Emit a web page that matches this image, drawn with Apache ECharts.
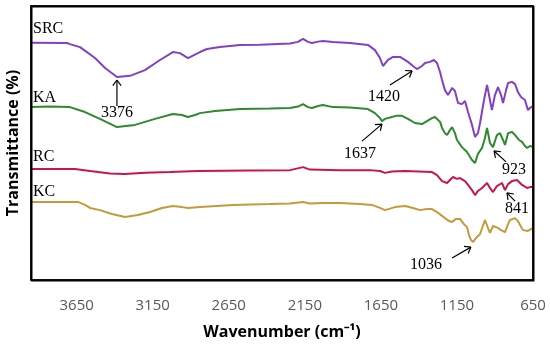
<!DOCTYPE html>
<html><head><meta charset="utf-8">
<script src="https://cdn.jsdelivr.net/npm/echarts@6/dist/echarts.min.js"></script>
<style>html,body{margin:0;padding:0;background:#fff}#c{width:550px;height:351px}</style>
</head><body><div id="c"></div>
<script>
// Wavenumber (cm-1) and relative transmittance values
const srcW = [3950,3713,3694,3628,3529,3463,3385,3299,3201,3102,3017,2971,2918,2879,2839,2793,2708,2576,2445,2247,2195,2162,2129,2103,2063,2031,1965,1853,1735,1689,1656,1636,1603,1570,1524,1472,1439,1413,1380,1360,1327,1301,1281,1261,1248,1229,1209,1182,1163,1143,1117,1097,1077,1051,1031,1012,998,972,952,933,920,900,880,860,847,827,814,788,768,749,729,703,683,670,650];
const srcV = [86.6,86.5,86.1,85.0,81.0,77.4,74.1,74.5,76.6,80.3,83.2,82.8,81.0,82.1,83.2,84.3,85.0,85.8,85.9,86.3,86.9,88.0,86.9,86.5,87.0,87.2,86.9,86.5,85.8,83.9,81.0,78.1,80.3,81.4,81.4,79.6,78.1,77.0,78.1,79.2,79.6,80.3,79.2,75.9,73.0,69.3,67.5,70.1,69.0,64.6,64.2,65.3,61.3,56.6,52.2,53.6,57.3,65.7,71.2,65.7,62.0,67.5,70.4,67.5,64.6,69.3,71.9,72.3,71.5,68.6,66.8,65.7,62.0,62.8,63.5];
const kaW = [3950,3825,3694,3595,3497,3385,3266,3135,3017,2958,2918,2872,2839,2740,2576,2379,2247,2195,2162,2129,2103,2063,2031,1965,1853,1735,1689,1656,1643,1623,1590,1551,1511,1472,1426,1380,1347,1314,1294,1261,1248,1229,1215,1196,1182,1163,1150,1117,1084,1051,1031,1012,985,966,952,933,913,887,867,847,834,814,788,768,742,722,703,689,670,650];
const kaV = [63.1,63.3,63.1,61.3,58.8,55.8,56.6,58.8,60.6,60.2,59.5,60.2,60.9,61.7,62.4,62.6,62.8,63.3,64.2,63.1,62.8,63.5,63.9,63.1,63.0,62.4,60.9,59.1,58.0,58.8,59.3,59.9,59.9,58.8,57.3,56.9,58.0,59.1,59.5,57.7,55.5,53.6,52.9,54.7,55.8,53.6,51.1,48.5,46.7,43.8,42.7,46.0,48.2,51.8,55.5,50.0,48.5,52.9,53.6,51.1,49.3,53.6,54.0,52.9,51.1,50.4,48.9,48.2,48.9,48.5];
const rcW = [3950,3661,3562,3431,3332,3201,3037,2852,2510,2247,2162,2116,1919,1722,1656,1623,1577,1491,1314,1281,1248,1215,1196,1176,1150,1130,1097,1077,1051,1031,1012,985,952,933,913,887,854,834,814,788,755,722,689,670,650];
const rcV = [40.5,40.5,39.8,38.9,38.7,39.1,39.4,39.8,40.0,40.1,41.2,40.3,40.1,40.1,39.8,39.1,39.6,39.8,39.4,38.3,36.1,35.4,36.5,37.6,36.9,37.2,36.1,34.7,32.8,31.0,32.5,33.6,35.4,33.6,32.1,34.3,35.4,32.8,35.0,36.1,36.5,34.7,33.6,33.9,33.9];
const kcW = [3950,3641,3595,3562,3497,3418,3332,3247,3168,3089,3017,2958,2918,2839,2622,2379,2247,2162,2116,2031,1919,1787,1709,1656,1623,1557,1491,1439,1393,1347,1314,1281,1248,1229,1202,1182,1156,1130,1104,1084,1071,1058,1044,1031,1018,998,985,966,946,933,913,900,880,860,834,814,801,768,749,735,716,703,683,670,650];
const kcV = [28.5,28.5,27.4,26.3,25.5,24.1,23.0,23.7,24.8,26.3,27.0,26.6,26.3,26.6,27.4,27.7,27.9,28.5,27.9,28.1,28.1,27.7,27.4,26.3,25.5,26.6,27.0,26.3,25.5,25.9,25.9,24.8,23.4,22.6,21.5,21.2,22.3,22.3,20.4,19.3,16.4,14.6,13.9,14.6,15.7,16.8,17.5,21.9,19.0,17.2,19.7,20.1,19.0,18.2,17.5,20.4,21.9,22.6,21.5,20.1,18.2,17.5,17.9,18.2,19.0];
const seriesNames = ['SRC','KA','RC','KC'];
const xTicks = [650,1150,1650,2150,2650,3150,3650];
// Peak annotations: label, label position, arrow tail, arrow tip (data coords)
const peakLabels = ['3376','1420','1637','923','841','1036'];
const peakText = [[3385,60.9],[1630,66.8],[1787,46.0],[775,40.1],[755,25.9],[1353,5.5]];
const peakTail = [[3385,63.5],[1590,71.2],[1774,50.7],[827,43.1],[768,28.8],[1182,8.0]];
const peakTip  = [[3385,73.0],[1445,76.3],[1643,56.9],[906,47.1],[821,31.8],[1058,12.0]];
const nameLabelPos = [[3937,91.6],[3937,66.4],[3937,44.9],[3937,32.1]];

const colors = ['#8440C4','#2E8A2E','#C8154F','#C49A3C'];
const zip = (w,v) => w.map((x,i)=>[x,v[i]]);
const data = [zip(srcW,srcV), zip(kaW,kaV), zip(rcW,rcV), zip(kcW,kcV)];

const GRID = {left:31,right:17,top:6,bottom:71};
const chart = echarts.init(document.getElementById('c'), null, {renderer:'canvas'});

// Plot frame drawn by a custom series from the coordinate system's own rectangle
const frameSeries = {
  type:'custom', silent:true, clip:false, z:10, data:[[650,0]],
  renderItem:(params)=>{
    const cs = params.coordSys;
    return {type:'rect', shape:{x:cs.x, y:cs.y, width:cs.width, height:cs.height},
      style:{stroke:'#000', lineWidth:1.5, fill:'transparent'}};
  }
};

chart.setOption({
  animation:false,
  grid:Object.assign({outerBoundsMode:'none',show:true,borderColor:'#000',borderWidth:1.5}, GRID),
  xAxis:{type:'value',inverse:true,min:650,max:3950,interval:500,
    name:'Wavenumber (cm⁻¹)',nameLocation:'middle',nameGap:44,
    nameTextStyle:{fontFamily:'Open Sans',fontWeight:'bold',fontSize:16,color:'#000'},
    axisLine:{show:false},axisTick:{show:false},splitLine:{show:false},
    axisLabel:{margin:18,fontFamily:'Open Sans',fontSize:15,color:'#595959',showMaxLabel:false,
      formatter:v=>String(v)}},
  yAxis:{type:'value',min:0,max:100,
    name:'Transmittance (%)',nameLocation:'middle',nameGap:10,
    nameTextStyle:{fontFamily:'Open Sans',fontWeight:'bold',fontSize:16,color:'#000'},
    axisLine:{show:false},axisTick:{show:false},splitLine:{show:false},axisLabel:{show:false}},
  series: data.map((d,i)=>({name:seriesNames[i],type:'line',data:d,showSymbol:false,
    lineStyle:{color:colors[i],width:2},itemStyle:{color:colors[i]}})).concat([frameSeries])
});

const px = c => chart.convertToPixel({xAxisIndex:0,yAxisIndex:0}, c);
function seg(a, b, w){
  return {type:'line',shape:{x1:a[0],y1:a[1],x2:b[0],y2:b[1]},style:{stroke:'#000',lineWidth:w}};
}
function arrowGraphics(tail, tip){
  const a = px(tail), b = px(tip);
  const ang = Math.atan2(b[1]-a[1], b[0]-a[0]);
  const L = 7, sp = Math.PI/5;
  const p1 = [b[0]-L*Math.cos(ang-sp), b[1]-L*Math.sin(ang-sp)];
  const p2 = [b[0]-L*Math.cos(ang+sp), b[1]-L*Math.sin(ang+sp)];
  return [seg(a,b,1.2), seg(p1,b,1.2), seg(p2,b,1.2)];
}
const g = [];
// backup frame from the grid layout box
g.push({type:'rect',z:50,left:GRID.left,top:GRID.top,
  shape:{width:chart.getWidth()-GRID.left-GRID.right,height:chart.getHeight()-GRID.top-GRID.bottom},
  style:{stroke:'#000',lineWidth:1.5,fill:'transparent'}});
peakLabels.forEach((t,i)=>{
  const p = px(peakText[i]);
  g.push({type:'text',x:p[0],y:p[1],style:{text:t,fontFamily:'Liberation Serif',fontSize:16,fill:'#000',align:'center',verticalAlign:'middle'}});
  arrowGraphics(peakTail[i], peakTip[i]).forEach(e=>g.push(e));
});
seriesNames.forEach((t,i)=>{
  const p = px(nameLabelPos[i]);
  g.push({type:'text',x:p[0],y:p[1],style:{text:t,fontFamily:'Liberation Serif',fontSize:16,fill:'#000',align:'left',verticalAlign:'middle'}});
});
chart.setOption({graphic:g});
</script></body></html>
